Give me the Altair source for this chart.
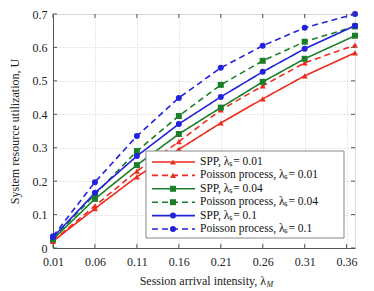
import altair as alt
import pandas as pd

# ---- data ----
x_vals = [0.01, 0.06, 0.11, 0.16, 0.21, 0.26, 0.31, 0.37]
spp_001 = [0.020, 0.118, 0.213, 0.295, 0.374, 0.446, 0.515, 0.584]
poi_001 = [0.022, 0.126, 0.230, 0.318, 0.413, 0.485, 0.554, 0.607]
spp_004 = [0.026, 0.147, 0.248, 0.341, 0.420, 0.497, 0.566, 0.635]
poi_004 = [0.029, 0.160, 0.290, 0.395, 0.488, 0.560, 0.617, 0.663]
spp_01 = [0.032, 0.165, 0.275, 0.371, 0.452, 0.527, 0.596, 0.665]
poi_01 = [0.035, 0.197, 0.335, 0.449, 0.539, 0.605, 0.659, 0.700]

series_names = [
    "SPP, λₛ= 0.01",
    "Poisson process, λₛ= 0.01",
    "SPP, λₛ= 0.04",
    "Poisson process, λₛ= 0.04",
    "SPP, λₛ= 0.1",
    "Poisson process, λₛ= 0.1",
]
series_vals = [spp_001, poi_001, spp_004, poi_004, spp_01, poi_01]
series_kind = ["SPP", "Poisson", "SPP", "Poisson", "SPP", "Poisson"]
series_lam = ["0.01", "0.01", "0.04", "0.04", "0.1", "0.1"]
colors = ["#ee2c1e", "#ee2c1e", "#1b7e2b", "#1b7e2b", "#2222dd", "#2222dd"]

x_ticks = [0.01, 0.06, 0.11, 0.16, 0.21, 0.26, 0.31, 0.36]
y_ticks = [0, 0.1, 0.2, 0.3, 0.4, 0.5, 0.6, 0.7]

W, H = 302, 234
FONT = "Liberation Serif"

rows = []
for name, vals, kind, lam in zip(series_names, series_vals, series_kind, series_lam):
    for xv, yv in zip(x_vals, vals):
        rows.append({"x": xv, "y": yv, "series": name, "kind": kind, "lam": lam})
df = pd.DataFrame(rows)

color_scale = alt.Scale(domain=series_names, range=colors)
dash_scale = alt.Scale(domain=["SPP", "Poisson"], range=[[1, 0], [6, 4]])
shape_scale = alt.Scale(domain=["0.01", "0.04", "0.1"], range=["triangle-up", "square", "circle"])

xs = alt.Scale(domain=[0.01, 0.37], nice=False, zero=False)
ys = alt.Scale(domain=[0, 0.7], nice=False)

x_axis = alt.Axis(values=x_ticks, format=".2f", title=None, ticks=False, labelPadding=8,
                  labelFlush=False, labelOverlap=False,
                  grid=True, gridDash=[1, 2], gridColor="#cfcfcf", domainColor="#555555",
                  labelFont=FONT, labelFontSize=12, labelColor="#222222")
y_axis = alt.Axis(values=y_ticks, title="System resource utilization, U", ticks=False,
                  labelExpr="datum.value == 0 ? '0' : format(datum.value, '.1f')",
                  labelFlush=False, labelOverlap=False,
                  labelPadding=6, grid=True, gridDash=[1, 2], gridColor="#cfcfcf",
                  domainColor="#555555", labelFont=FONT, labelFontSize=12, labelColor="#222222",
                  titleFont=FONT, titleFontSize=12, titleFontWeight="normal", titleColor="#222222",
                  titlePadding=11)

base = alt.Chart(df)
lines = base.mark_line(strokeWidth=1.6).encode(
    x=alt.X("x:Q", scale=xs, axis=x_axis),
    y=alt.Y("y:Q", scale=ys, axis=y_axis),
    color=alt.Color("series:N", scale=color_scale, legend=None),
    strokeDash=alt.StrokeDash("kind:N", scale=dash_scale, legend=None),
    detail="series:N",
)
points = base.mark_point(filled=True, size=36, opacity=1).encode(
    x=alt.X("x:Q", scale=xs, axis=x_axis),
    y=alt.Y("y:Q", scale=ys, axis=y_axis),
    color=alt.Color("series:N", scale=color_scale, legend=None),
    shape=alt.Shape("lam:N", scale=shape_scale, legend=None),
)

# inward ticks on all four sides
xt = pd.DataFrame({"v": x_ticks})
yt = pd.DataFrame({"v": y_ticks})
tick_color = "#555555"
bt = alt.Chart(xt).mark_rule(color=tick_color).encode(
    x=alt.X("v:Q", scale=xs, axis=x_axis), y=alt.value(H), y2=alt.value(H - 4))
tt = alt.Chart(xt).mark_rule(color=tick_color).encode(
    x=alt.X("v:Q", scale=xs, axis=x_axis), y=alt.value(0), y2=alt.value(4))
lt = alt.Chart(yt).mark_rule(color=tick_color).encode(
    y=alt.Y("v:Q", scale=ys, axis=y_axis), x=alt.value(0), x2=alt.value(4))
rt = alt.Chart(yt).mark_rule(color=tick_color).encode(
    y=alt.Y("v:Q", scale=ys, axis=y_axis), x=alt.value(W), x2=alt.value(W - 4))

# legend (drawn inside the plot)
leg_y0, leg_dy = 148, 13.4
leg = pd.DataFrame({
    "series": series_names,
    "kind": series_kind,
    "lam": series_lam,
    "ly": [leg_y0 + i * leg_dy for i in range(len(series_names))],
})
box = alt.Chart(pd.DataFrame({"a": [0]})).mark_rect(
    fill="white", stroke="#888888", strokeWidth=1).encode(
    x=alt.value(93), x2=alt.value(291), y=alt.value(137), y2=alt.value(224))
leg_lines = alt.Chart(leg).mark_rule(strokeWidth=1.6).encode(
    x=alt.value(99), x2=alt.value(142),
    y=alt.Y("ly:Q", scale=None, axis=None),
    color=alt.Color("series:N", scale=color_scale, legend=None),
    strokeDash=alt.StrokeDash("kind:N", scale=dash_scale, legend=None),
)
leg_pts = alt.Chart(leg).mark_point(filled=True, size=36, opacity=1).encode(
    x=alt.value(120),
    y=alt.Y("ly:Q", scale=None, axis=None),
    color=alt.Color("series:N", scale=color_scale, legend=None),
    shape=alt.Shape("lam:N", scale=shape_scale, legend=None),
)
leg_txt = alt.Chart(leg).mark_text(align="left", baseline="middle", font=FONT,
                                   fontSize=11.5, color="#111111").encode(
    x=alt.value(147), y=alt.Y("ly:Q", scale=None, axis=None), text="series:N")

# x axis title with subscript
title_df = pd.DataFrame({"t": ["Session arrival intensity, λ"], "s": ["M"]})
xt1 = alt.Chart(title_df).mark_text(align="right", baseline="middle", font=FONT,
                                    fontSize=12, color="#222222").encode(
    x=alt.value(213), y=alt.value(H + 33), text="t:N")
xt2 = alt.Chart(title_df).mark_text(align="left", baseline="middle", font=FONT,
                                    fontSize=8, fontStyle="italic", color="#222222").encode(
    x=alt.value(213.5), y=alt.value(H + 37), text="s:N")

chart = alt.layer(lines, points, bt, tt, lt, rt, box, leg_lines, leg_pts, leg_txt, xt1, xt2).properties(
    width=W, height=H,
    autosize=alt.AutoSizeParams(type="none"),
    padding={"left": 45, "top": 6, "right": 10, "bottom": 40},
).configure_view(stroke="#555555", strokeWidth=1).configure(background="white")

chart.save("out.html", embed_options={"renderer": "svg", "actions": False})
